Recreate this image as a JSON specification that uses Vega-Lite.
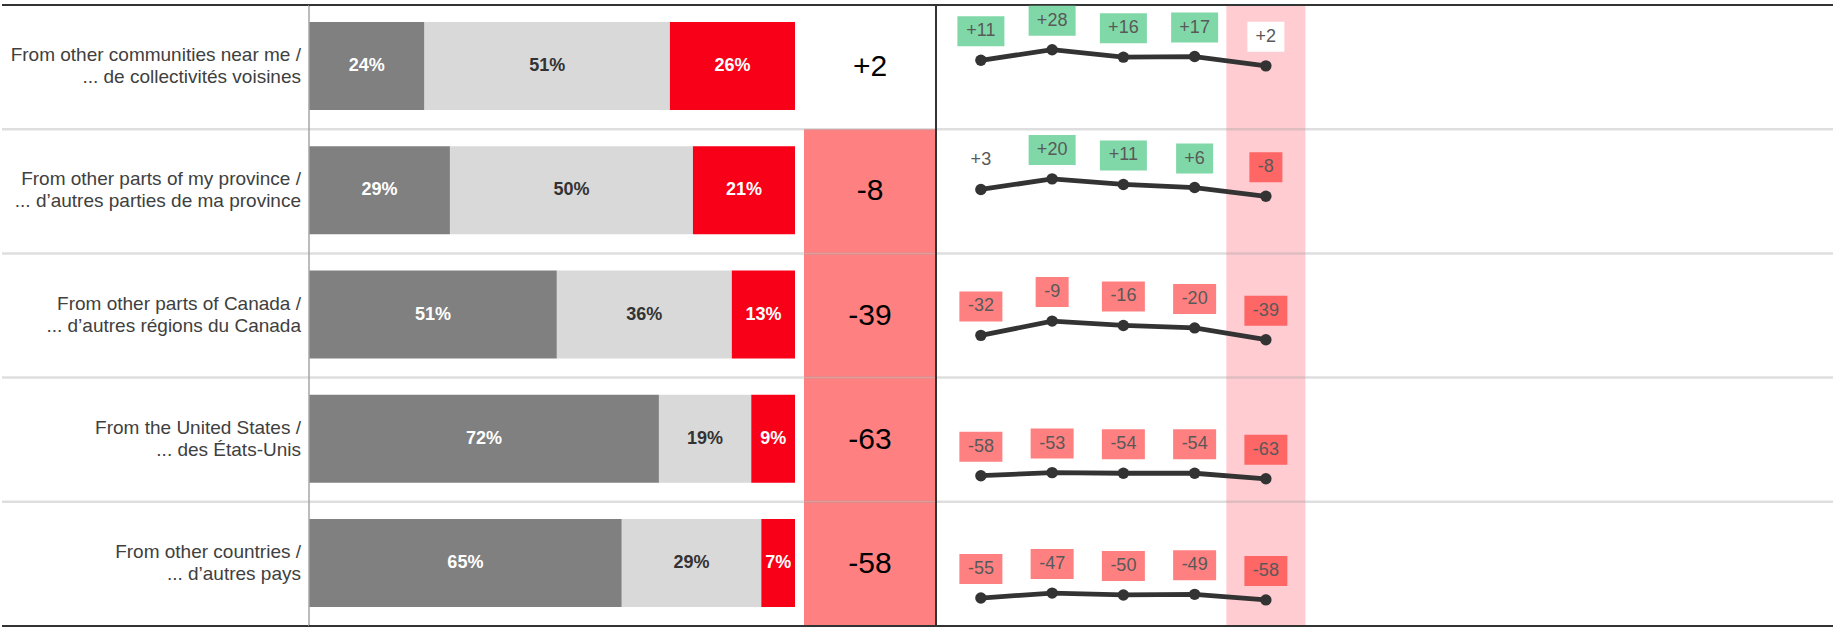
{
  "$schema": "https://vega.github.io/schema/vega-lite/v6.json",
  "padding": {"left": 0, "right": 0, "top": 4, "bottom": 2},
  "spacing": 0,
  "bounds": "flush",
  "config": {
    "view": {"stroke": null},
    "axis": {"disable": true},
    "legend": {"disable": true},
    "font": "Liberation Sans"
  },
  "datasets": {
    "rows": [
      {"row": 1, "label": "From other communities near me /\n... de collectivités voisines", "diff": 2},
      {"row": 2, "label": "From other parts of my province /\n... d’autres parties de ma province", "diff": -8},
      {"row": 3, "label": "From other parts of Canada /\n... d’autres régions du Canada", "diff": -39},
      {"row": 4, "label": "From the United States /\n... des États-Unis", "diff": -63},
      {"row": 5, "label": "From other countries /\n... d’autres pays", "diff": -58}
    ],
    "bars": [
      {"row": 1, "seg": 1, "pct": 24}, {"row": 1, "seg": 2, "pct": 51}, {"row": 1, "seg": 3, "pct": 26},
      {"row": 2, "seg": 1, "pct": 29}, {"row": 2, "seg": 2, "pct": 50}, {"row": 2, "seg": 3, "pct": 21},
      {"row": 3, "seg": 1, "pct": 51}, {"row": 3, "seg": 2, "pct": 36}, {"row": 3, "seg": 3, "pct": 13},
      {"row": 4, "seg": 1, "pct": 72}, {"row": 4, "seg": 2, "pct": 19}, {"row": 4, "seg": 3, "pct": 9},
      {"row": 5, "seg": 1, "pct": 65}, {"row": 5, "seg": 2, "pct": 29}, {"row": 5, "seg": 3, "pct": 7}
    ],
    "spark": [
      {"row": 1, "period": 1, "v": 11}, {"row": 1, "period": 2, "v": 28}, {"row": 1, "period": 3, "v": 16}, {"row": 1, "period": 4, "v": 17}, {"row": 1, "period": 5, "v": 2},
      {"row": 2, "period": 1, "v": 3}, {"row": 2, "period": 2, "v": 20}, {"row": 2, "period": 3, "v": 11}, {"row": 2, "period": 4, "v": 6}, {"row": 2, "period": 5, "v": -8},
      {"row": 3, "period": 1, "v": -32}, {"row": 3, "period": 2, "v": -9}, {"row": 3, "period": 3, "v": -16}, {"row": 3, "period": 4, "v": -20}, {"row": 3, "period": 5, "v": -39},
      {"row": 4, "period": 1, "v": -58}, {"row": 4, "period": 2, "v": -53}, {"row": 4, "period": 3, "v": -54}, {"row": 4, "period": 4, "v": -54}, {"row": 4, "period": 5, "v": -63},
      {"row": 5, "period": 1, "v": -55}, {"row": 5, "period": 2, "v": -47}, {"row": 5, "period": 3, "v": -50}, {"row": 5, "period": 4, "v": -49}, {"row": 5, "period": 5, "v": -58}
    ]
  },
  "hconcat": [
    {
      "width": 307, "height": 621,
      "layer": [
        {"data": {"name": "rows"},
         "mark": {"type": "text", "align": "right", "baseline": "middle", "dx": -8, "dy": -12, "fontSize": 19, "lineHeight": 22, "lineBreak": "\n", "color": "#404040"},
         "encoding": {
           "y": {"field": "row", "type": "nominal", "scale": {"type": "band", "domain": [1, 2, 3, 4, 5], "paddingInner": 0, "paddingOuter": 0}},
           "x": {"datum": 1, "type": "quantitative", "scale": {"domain": [0, 1], "nice": false, "zero": false}},
           "text": {"field": "label"}
         }},
        {"data": {"name": "rows"}, "transform": [{"filter": "datum.row > 1"}],
         "mark": {"type": "rule", "color": "#A0A0A0", "strokeWidth": 2.5, "opacity": 0.35},
         "encoding": {"y": {"field": "row", "type": "nominal", "bandPosition": 0, "scale": {"type": "band"}}}},
        {"data": {"name": "rows"}, "transform": [{"filter": "datum.row == 1"}],
         "mark": {"type": "rule", "color": "#333333", "strokeWidth": 2},
         "encoding": {"y": {"field": "row", "type": "nominal", "bandPosition": 0, "scale": {"type": "band"}}}},
        {"data": {"name": "rows"}, "transform": [{"filter": "datum.row == 5"}],
         "mark": {"type": "rule", "color": "#333333", "strokeWidth": 2},
         "encoding": {"y": {"field": "row", "type": "nominal", "bandPosition": 1, "scale": {"type": "band"}}}}
      ]
    },
    {
      "width": 495, "height": 621,
      "layer": [
        {"data": {"name": "bars"},
         "transform": [
           {"stack": "pct", "groupby": ["row"], "sort": [{"field": "seg", "order": "ascending"}], "offset": "normalize", "as": ["x0", "x1"]},
           {"calculate": "(datum.x0 + datum.x1) / 2", "as": "xm"},
           {"calculate": "datum.pct + '%'", "as": "lbl"}
         ],
         "layer": [
           {"mark": {"type": "bar", "height": 88, "yOffset": -1},
            "encoding": {
              "y": {"field": "row", "type": "nominal", "scale": {"type": "band", "domain": [1, 2, 3, 4, 5], "paddingInner": 0, "paddingOuter": 0}},
              "x": {"field": "x0", "type": "quantitative", "scale": {"domain": [0, 1.0185], "nice": false, "zero": false}},
              "x2": {"field": "x1"},
              "color": {"field": "seg", "type": "nominal", "scale": {"domain": [1, 2, 3], "range": ["#808080", "#D9D9D9", "#F70018"]}, "legend": null}
            }},
           {"mark": {"type": "text", "fontSize": 18, "fontWeight": "bold", "baseline": "middle", "dy": -1},
            "encoding": {
              "y": {"field": "row", "type": "nominal", "scale": {"type": "band"}},
              "x": {"field": "xm", "type": "quantitative"},
              "text": {"field": "lbl"},
              "color": {"condition": {"test": "datum.seg == 2", "value": "#333333"}, "value": "#FFFFFF"}
            }}
         ]},
        {"data": {"name": "rows"}, "transform": [{"filter": "datum.row == 1"}],
         "mark": {"type": "rule", "color": "#A6A6A6", "strokeWidth": 1.5},
         "encoding": {"x": {"datum": 0, "type": "quantitative"}}},
        {"data": {"name": "rows"}, "transform": [{"filter": "datum.row > 1"}],
         "mark": {"type": "rule", "color": "#A0A0A0", "strokeWidth": 2.5, "opacity": 0.35},
         "encoding": {"y": {"field": "row", "type": "nominal", "bandPosition": 0, "scale": {"type": "band"}}}},
        {"data": {"name": "rows"}, "transform": [{"filter": "datum.row == 1"}],
         "mark": {"type": "rule", "color": "#333333", "strokeWidth": 2},
         "encoding": {"y": {"field": "row", "type": "nominal", "bandPosition": 0, "scale": {"type": "band"}}}},
        {"data": {"name": "rows"}, "transform": [{"filter": "datum.row == 5"}],
         "mark": {"type": "rule", "color": "#333333", "strokeWidth": 2},
         "encoding": {"y": {"field": "row", "type": "nominal", "bandPosition": 1, "scale": {"type": "band"}}}}
      ]
    },
    {
      "width": 132, "height": 621,
      "data": {"name": "rows"},
      "layer": [
        {"mark": {"type": "rect", "height": 124.2},
         "encoding": {
           "y": {"field": "row", "type": "nominal", "scale": {"type": "band", "domain": [1, 2, 3, 4, 5], "paddingInner": 0, "paddingOuter": 0}},
           "x": {"datum": 0, "type": "quantitative", "scale": {"domain": [0, 1], "nice": false, "zero": false}},
           "x2": {"datum": 1},
           "fill": {"condition": {"test": "datum.diff < -5", "value": "#FF8080"}, "value": "#FFFFFF"}
         }},
        {"transform": [{"calculate": "(datum.diff > 0 ? '+' : '') + datum.diff", "as": "lbl"}],
         "mark": {"type": "text", "fontSize": 30, "baseline": "middle", "color": "#000000"},
         "encoding": {
           "y": {"field": "row", "type": "nominal", "scale": {"type": "band"}},
           "x": {"datum": 0.5, "type": "quantitative"},
           "text": {"field": "lbl"}
         }},
        {"transform": [{"filter": "datum.row > 1"}],
         "mark": {"type": "rule", "color": "#A0A0A0", "strokeWidth": 2.5, "opacity": 0.35},
         "encoding": {"y": {"field": "row", "type": "nominal", "bandPosition": 0, "scale": {"type": "band"}}}},
        {"transform": [{"filter": "datum.row == 1"}],
         "mark": {"type": "rule", "color": "#333333", "strokeWidth": 2},
         "encoding": {"y": {"field": "row", "type": "nominal", "bandPosition": 0, "scale": {"type": "band"}}}},
        {"transform": [{"filter": "datum.row == 5"}],
         "mark": {"type": "rule", "color": "#333333", "strokeWidth": 2},
         "encoding": {"y": {"field": "row", "type": "nominal", "bandPosition": 1, "scale": {"type": "band"}}}}
      ]
    },
    {
      "width": 897, "height": 621,
      "layer": [
        {"data": {"name": "rows"}, "transform": [{"filter": "datum.row == 1"}],
         "mark": {"type": "rect", "color": "#FFCCD1"},
         "encoding": {
           "x": {"datum": 4.445, "type": "quantitative", "scale": {"domain": [0.37, 12.96], "nice": false, "zero": false}},
           "x2": {"datum": 5.555}
         }},
        {"data": {"name": "rows"}, "transform": [{"filter": "datum.row > 1"}],
         "mark": {"type": "rule", "color": "#A0A0A0", "strokeWidth": 2.5, "opacity": 0.35},
         "encoding": {"y": {"field": "row", "type": "nominal", "bandPosition": 0, "scale": {"type": "band", "domain": [1, 2, 3, 4, 5], "paddingInner": 0, "paddingOuter": 0}}}},
        {"data": {"name": "rows"}, "transform": [{"filter": "datum.row == 1"}],
         "mark": {"type": "rule", "color": "#333333", "strokeWidth": 2},
         "encoding": {"y": {"field": "row", "type": "nominal", "bandPosition": 0, "scale": {"type": "band"}}}},
        {"data": {"name": "rows"}, "transform": [{"filter": "datum.row == 5"}],
         "mark": {"type": "rule", "color": "#333333", "strokeWidth": 2},
         "encoding": {"y": {"field": "row", "type": "nominal", "bandPosition": 1, "scale": {"type": "band"}}}},
        {"data": {"name": "rows"}, "transform": [{"filter": "datum.row == 1"}],
         "mark": {"type": "rule", "color": "#333333", "strokeWidth": 2},
         "encoding": {"x": {"datum": 0.37, "type": "quantitative"}}},
        {"data": {"name": "spark"},
         "transform": [{"calculate": "(datum.v > 0 ? '+' : '') + datum.v", "as": "lbl"}],
         "encoding": {
           "x": {"field": "period", "type": "quantitative"},
           "y": {"field": "row", "type": "nominal", "scale": {"type": "band"}},
           "yOffset": {"field": "v", "type": "quantitative", "scale": {"domain": [-100, 100], "reverse": true}}
         },
         "layer": [
           {"mark": {"type": "line", "color": "#333333", "strokeWidth": 4.8},
            "encoding": {"detail": {"field": "row", "type": "nominal"}, "order": {"field": "period", "type": "quantitative"}}},
           {"mark": {"type": "point", "filled": true, "size": 130, "color": "#333333", "opacity": 1}},
           {"mark": {"type": "point", "filled": true, "size": 900, "opacity": 1, "strokeWidth": 0},
            "encoding": {
              "shape": {"condition": [
                {"test": "datum.v >= 10", "value": "M-1.567,-2.933L1.567,-2.933L1.567,-0.933L-1.567,-0.933Z"},
                {"test": "datum.v > 0", "value": "M-1.233,-2.933L1.233,-2.933L1.233,-0.933L-1.233,-0.933Z"},
                {"test": "datum.v > -10", "value": "M-1.1,-2.933L1.1,-2.933L1.1,-0.933L-1.1,-0.933Z"}
              ], "value": "M-1.433,-2.933L1.433,-2.933L1.433,-0.933L-1.433,-0.933Z"},
              "fill": {"condition": [
                {"test": "datum.v > 5", "value": "#80D8A8"},
                {"test": "datum.v < -5 && datum.period == 5", "value": "#FF6666"},
                {"test": "datum.v < -5", "value": "#FF8080"}
              ], "value": "#FFFFFF"}
            }},
           {"mark": {"type": "text", "dy": -29, "fontSize": 18, "color": "#595959", "baseline": "middle"},
            "encoding": {"text": {"field": "lbl"}}}
         ]}
      ]
    }
  ]
}
